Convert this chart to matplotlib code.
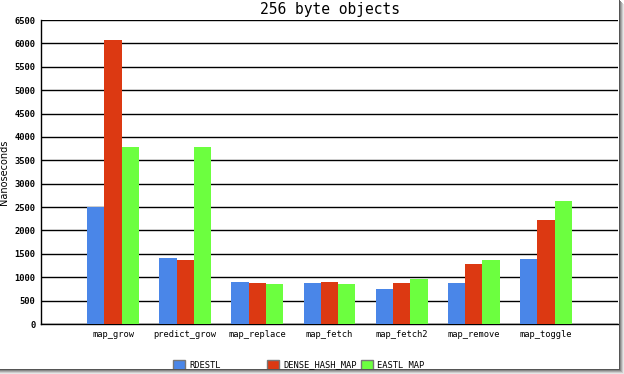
import numpy as np
import matplotlib.pyplot as plt
from matplotlib.patches import Rectangle

categories = ['map_grow', 'predict_grow', 'map_replace', 'map_fetch',
              'map_fetch2', 'map_remove', 'map_toggle']
series_names = ['RDESTL', 'DENSE_HASH_MAP', 'EASTL MAP']
rdestl = [2500, 1410, 900, 880, 750, 880, 1390]
dense_hash_map = [6070, 1370, 880, 900, 880, 1280, 2220]
eastl_map = [3790, 3790, 860, 860, 960, 1370, 2630]
colors = ['#4a86e8', '#dc3912', '#6cff3f']

W, H = 624, 374
fig = plt.figure(figsize=(W / 100, H / 100), dpi=100)
ax = fig.add_axes([41 / W, 50 / H, 577 / W, 304 / H])

x = np.arange(1, len(categories) + 1)
w = 0.24
for i, (vals, c) in enumerate(zip([rdestl, dense_hash_map, eastl_map], colors)):
    ax.bar(x + (i - 1) * w, vals, width=w, color=c, zorder=3)

ax.set_xlim(0, 8)
ax.set_ylim(0, 6500)
ax.set_yticks(np.arange(0, 6501, 500))
ax.yaxis.grid(True, color='black', linewidth=1.0, zorder=1)
ax.set_xticks(x)
ax.set_xticklabels(categories, family='DejaVu Sans Mono', fontsize=6.3)
for lab in ax.get_yticklabels():
    lab.set_family('DejaVu Sans Mono')
    lab.set_fontsize(6.3)
    lab.set_fontweight('bold')
ax.tick_params(axis='both', length=0, pad=4)
ax.spines['top'].set_visible(False)
ax.spines['right'].set_visible(False)
ax.spines['left'].set_linewidth(1.0)
ax.spines['bottom'].set_linewidth(1.0)
ax.set_ylabel('Nanoseconds', fontsize=7, labelpad=4)
ax.set_title('256 byte objects', family='DejaVu Sans Mono', fontsize=10.5, pad=4)

# legend drawn by hand, fixed spacing like the original
lx = [173, 267, 361]
for px, name, c in zip(lx, series_names, colors):
    fig.add_artist(Rectangle((px / W, (H - 370) / H), 12 / W, 10 / H,
                             transform=fig.transFigure, facecolor=c,
                             edgecolor='#777777', linewidth=1.0))
    fig.text((px + 16) / W, (H - 365) / H, name, family='DejaVu Sans Mono',
             fontsize=6.3, va='center', ha='left')

# drop shadow on right and bottom edges
for off, col in [(0, '#555555'), (1, '#888888'), (2, '#aaaaaa'), (3, '#cccccc'), (4, '#e6e6e6')]:
    fig.add_artist(Rectangle(((619 + off) / W, 0), 1 / W, (H - off) / H,
                             transform=fig.transFigure, facecolor=col, linewidth=0))
    fig.add_artist(Rectangle((0, (H - 370 - off) / H), (619 + off) / W, 1 / H,
                             transform=fig.transFigure, facecolor=col, linewidth=0))

fig.savefig('out.png', dpi=100)
